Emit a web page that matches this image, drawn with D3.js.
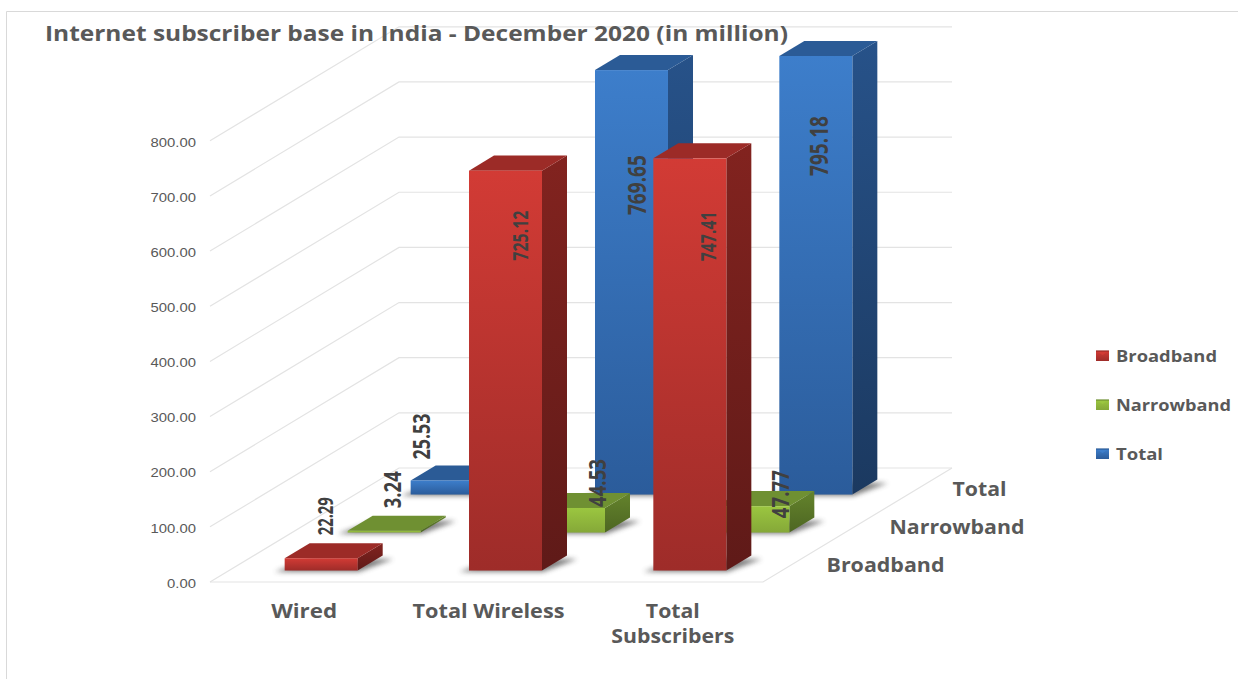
<!DOCTYPE html>
<html><head><meta charset="utf-8">
<script src="https://cdn.jsdelivr.net/npm/d3@7"></script>
<style>html,body{margin:0;padding:0;background:#fff;overflow:hidden}svg{display:block}</style>
</head><body><svg id="c" width="1238" height="679"></svg>
<script>
const categories = ["Wired", "Total Wireless", "Total Subscribers"];
const seriesNames = ["Broadband", "Narrowband", "Total"];
const broadband = [22.29, 725.12, 747.41];
const narrowband = [3.24, 44.53, 47.77];
const totalBase = [25.53, 769.65, 795.18];
const yTicks = [0, 100, 200, 300, 400, 500, 600, 700, 800];
const titleText = "Internet subscriber base in India - December 2020 (in million)";

// layout
const frontLeft = 210, frontRight = 763, floorY = 582;
const depthX = 189, depthY = 114;
const pxPerUnit = 0.5515;
const palette = {
  Broadband: {f1:"#d23b35", f2:"#9e2c29", t:"#9c2b27", s1:"#82231f", s2:"#5f1a18"},
  Narrowband:{f1:"#9bc640", f2:"#85a838", t:"#6f9032", s1:"#64832c", s2:"#4d6622"},
  Total:     {f1:"#3d7ecb", f2:"#2b5c9b", t:"#2b5b96", s1:"#275289", s2:"#1b3960"}
};
// label placement relative to the top-front-centre of each bar: [dx, dy, length, fontsize]
const labelPlacement = {
  "Broadband|Wired":[3,-42,38,22], "Broadband|Total Wireless":[15,65,50,21], "Broadband|Total Subscribers":[18,78,50,21],
  "Narrowband|Wired":[7,-41,37,24], "Narrowband|Total Wireless":[28,-25,48,24], "Narrowband|Total Subscribers":[27,-12,48,24],
  "Total|Wired":[-27,-44,46,24], "Total|Total Wireless":[5,115,60,25], "Total|Total Subscribers":[2,90,60,25]
};

const values = {Broadband:broadband, Narrowband:narrowband, Total:totalBase};
const x = d3.scaleBand().domain(categories).range([frontLeft, frontRight]).paddingInner(0.604).paddingOuter(0.302);
const z = d3.scaleBand().domain(seriesNames).range([0, 1]).paddingInner(0.603).paddingOuter(0.3015);
const y = d3.scaleLinear().domain([0, 800]).range([floorY, floorY - 800 * pxPerUnit]);

const svg = d3.select("#c");
const defs = svg.append("defs");
defs.append("filter").attr("id","blur").attr("x","-30%").attr("y","-60%").attr("width","160%").attr("height","220%")
  .append("feGaussianBlur").attr("stdDeviation",2.6);
function grad(id,a,b){
  const g=defs.append("linearGradient").attr("id",id).attr("x1",0).attr("y1",0).attr("x2",0).attr("y2",1);
  g.append("stop").attr("offset",0).attr("stop-color",a);
  g.append("stop").attr("offset",1).attr("stop-color",b);
}
seriesNames.forEach(s=>{const p=palette[s];grad("f"+s,p.f1,p.f2);grad("s"+s,p.s1,p.s2);});

// chart frame
svg.append("path").attr("d","M6.5,679V11.5H1238").attr("fill","none").attr("stroke","#d9d9d9").attr("stroke-width",1);

// project (screen x, depth fraction, value) onto the page
const P=(sx,t,v)=>[sx+depthX*t, y(v)-depthY*t];
const pts=a=>a.map(p=>p.join(",")).join(" ");

// walls
const grid=svg.append("g").attr("fill","none").attr("stroke","#e3e3e3").attr("stroke-width",1.2);
yTicks.forEach(v=>{
  grid.append("polyline").attr("points",pts([P(frontLeft,0,v),P(frontLeft,1,v),P(frontRight,1,v)]));
});
grid.append("polyline").attr("points",pts([P(frontLeft,0,0),P(frontRight,0,0),P(frontRight,1,0)]));

// y axis
const yAxis=svg.append("g").attr("transform",`translate(${frontLeft-14},0.7)`)
  .call(d3.axisLeft(y).tickValues(yTicks).tickSize(0).tickPadding(0).tickFormat(d3.format(".2f")));
yAxis.select(".domain").remove();
yAxis.selectAll("text").attr("font-family","'Liberation Sans'").attr("font-size",13.5).attr("fill","#595959")
  .attr("dy","0.34em").each(function(){
    d3.select(this).attr("textLength",this.getComputedTextLength()*1.1).attr("lengthAdjust","spacingAndGlyphs");
  });

// bars, back to front
const barsG=svg.append("g");
[...seriesNames].reverse().forEach(s=>{
  categories.forEach((c,i)=>{
    const v=values[s][i];
    const x0=x(c), x1=x0+x.bandwidth(), t0=z(s), t1=t0+z.bandwidth();
    const g=barsG.append("g");
    g.append("polygon").attr("points",pts([P(x0-8,t0-0.01,0),P(x1+3,t0-0.01,0),P(x1+16,t1-0.03,0),P(x0+8,t1-0.03,0)]))
      .attr("fill","#444").attr("opacity",0.7).attr("filter","url(#blur)");
    g.append("polygon").attr("points",pts([P(x1,t0,0),P(x1,t1,0),P(x1,t1,v),P(x1,t0,v)])).attr("fill",`url(#s${s})`);
    g.append("polygon").attr("points",pts([P(x0,t0,v),P(x1,t0,v),P(x1,t1,v),P(x0,t1,v)])).attr("fill",palette[s].t);
    g.append("rect").attr("x",P(x0,t0,v)[0]).attr("y",P(x0,t0,v)[1]).attr("width",x.bandwidth())
      .attr("height",Math.max(y(0)-y(v),0.5)).attr("fill",`url(#f${s})`);
  });
});

// value labels
const labels=svg.append("g").attr("font-family","'Open Sans'").attr("font-weight",700).attr("fill","#404040");
seriesNames.forEach(s=>categories.forEach((c,i)=>{
  const v=values[s][i];
  const [lx,ly]=P(x(c)+x.bandwidth()/2,z(s),v);
  const [dx,dy,len,fs]=labelPlacement[s+"|"+c];
  labels.append("text").attr("transform",`translate(${lx+dx},${ly+dy}) rotate(-90)`)
    .attr("text-anchor","middle").attr("dominant-baseline","central")
    .attr("font-size",fs).attr("textLength",len).attr("lengthAdjust","spacingAndGlyphs").text(v.toFixed(2));
}));

// title
const boldText=(sel,px,py,str,len,fs)=>sel.append("text").attr("x",px).attr("y",py).attr("font-family","'Open Sans'")
  .attr("font-weight",700).attr("fill","#595959").attr("font-size",fs).attr("textLength",len).attr("lengthAdjust","spacingAndGlyphs").text(str);
boldText(svg,45,41,titleText,743,21.5);

// category labels
const catRows=[["Wired"],["Total Wireless"],["Total","Subscribers"]];
const catLen={"Wired":66,"Total Wireless":152,"Total":54,"Subscribers":123};
categories.forEach((c,i)=>{
  const cx=x(c)+x.bandwidth()/2+2;
  catRows[i].forEach((r,j)=>boldText(svg,cx-catLen[r]/2,617.7+j*25,r,catLen[r],19));
});

// depth (series) labels
const seriesLen={Broadband:118,Narrowband:135,Total:54};
seriesNames.forEach(s=>{
  const t=z(s)+z.bandwidth()/2;
  const [ax,ay]=P(frontRight,t,0);
  boldText(svg,ax+32,ay+8.5,s,seriesLen[s],19);
});

// legend
const legendLen={Broadband:101,Narrowband:115,Total:47};
seriesNames.forEach((s,i)=>{
  const ly=356+i*49;
  svg.append("rect").attr("x",1096).attr("y",ly-5).attr("width",13).attr("height",10).attr("fill",`url(#f${s})`);
  svg.append("path").attr("d",`M1096,${ly-5}L1102.5,${ly-1}L1109,${ly-5}Z`).attr("fill",palette[s].f1).attr("stroke","none");
  svg.append("path").attr("d",`M1096,${ly-5}H1109`).attr("stroke",palette[s].t).attr("stroke-width",1.2);
  boldText(svg,1116,ly+6,s,legendLen[s],15.5);
});
</script></body></html>
